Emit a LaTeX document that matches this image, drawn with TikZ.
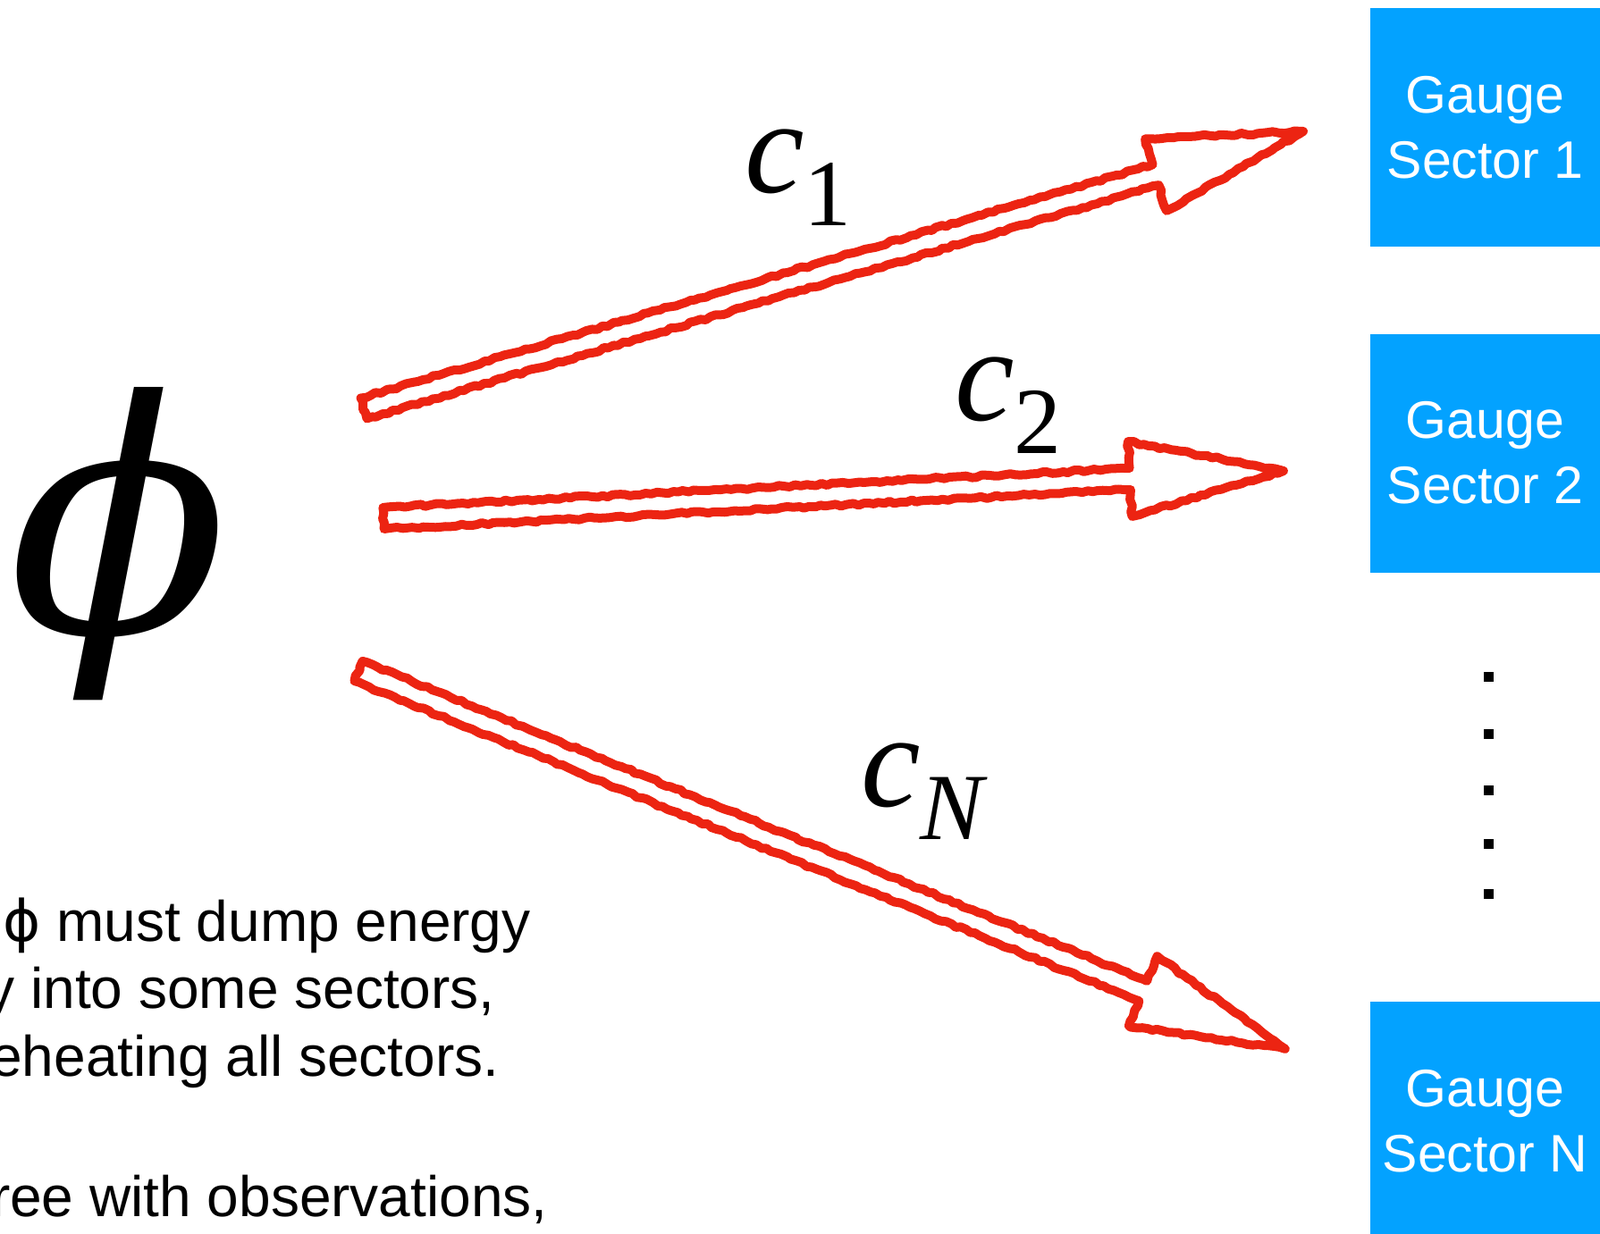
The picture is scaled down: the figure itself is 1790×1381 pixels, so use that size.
\documentclass[tikz,border=0pt]{standalone}
\usepackage{graphicx}
\usepackage[no-math]{fontspec}
\setmainfont{Liberation Sans}
\newfontfamily\greekfont{DejaVu Sans}
\newfontfamily\phifont{DejaVu Serif}[ItalicFont=* Italic]
\newfontfamily\timesit{Liberation Serif}[ItalicFont=* Italic]
\usetikzlibrary{calc,decorations.pathmorphing}
\definecolor{sectorblue}{RGB}{3,162,255}
\definecolor{arrowred}{RGB}{236,36,18}
\newcommand\cpl[1]{{\timesit\fontsize{75}{80}\selectfont\itshape c}%
  \raisebox{-18.5pt}{\timesit\fontsize{53}{56}\selectfont #1}}
\tikzset{
  sector/.style={fill=sectorblue, text=white, inner sep=0pt, align=center,
    minimum width=128.5pt, minimum height=133.5pt,
    font=\fontsize{29.5}{36.5}\selectfont},
  coupling/.style={inner sep=0pt, anchor=base west},
  note/.style={inner sep=0pt, anchor=base east, font=\fontsize{32}{38}\selectfont},
  dotsq/.style={fill=black, inner sep=0pt, minimum size=5.5pt},
  sketch/.style={draw=arrowred, line width=5pt, line join=round, line cap=round,
    decorate, decoration={random steps, segment length=3pt, amplitude=0.7pt}}
}
\begin{document}
\begin{tikzpicture}[x=0.5pt, y=-0.5pt]
\useasboundingbox (0,0) rectangle (1790,1381);
\node[inner sep=0pt, anchor=base west, font=\phifont\fontsize{181}{186}\selectfont] (phi) at (9,708) {\itshape ϕ};
\node[sector] (box1) at (1661.5,142.5) {Gauge\\Sector 1};
\node[sector] (box2) at (1661.5,507) {Gauge\\Sector 2};
\node[sector] (boxN) at (1661.5,1254.5) {Gauge\\Sector N};
\foreach \y [count=\i] in {757,821,884,944,1000}
  \node[dotsq] (dot\i) at (1665,\y) {};
\coordinate (s1) at (407,457);
\coordinate (t1) at (1458,147);
\coordinate (s2) at (429,580);
\coordinate (t2) at (1436,527);
\coordinate (sN) at (401,751);
\coordinate (tN) at (1438,1174);
\foreach \i in {1,2,N}{
  \coordinate (b\i) at ($(t\i)!86pt!(s\i)$);
  \draw[sketch] ($(s\i)!6pt!90:(t\i)$) -- ($(b\i)!6pt!90:(t\i)$) -- ($(b\i)!21pt!90:(t\i)$)
    -- (t\i) -- ($(b\i)!21pt!-90:(t\i)$) -- ($(b\i)!6pt!-90:(t\i)$) -- ($(s\i)!6pt!-90:(t\i)$) -- cycle;
}
\node[coupling] (lab1) at (833,215) {\cpl{1}};
\node[coupling] (lab2) at (1068,470) {\cpl{2}};
\node[coupling] (labN) at (963,902) {\cpl{\itshape N}};
\node[note] (txt1) at (594,1053) {{\greekfont ϕ} must dump energy};
\node[note] (txt2) at (554,1128) {y into some sectors,};
\node[note] (txt3) at (559,1204) {eheating all sectors.};
\node[note] (txt4) at (613,1361) {ree with observations,};
\end{tikzpicture}
\end{document}
